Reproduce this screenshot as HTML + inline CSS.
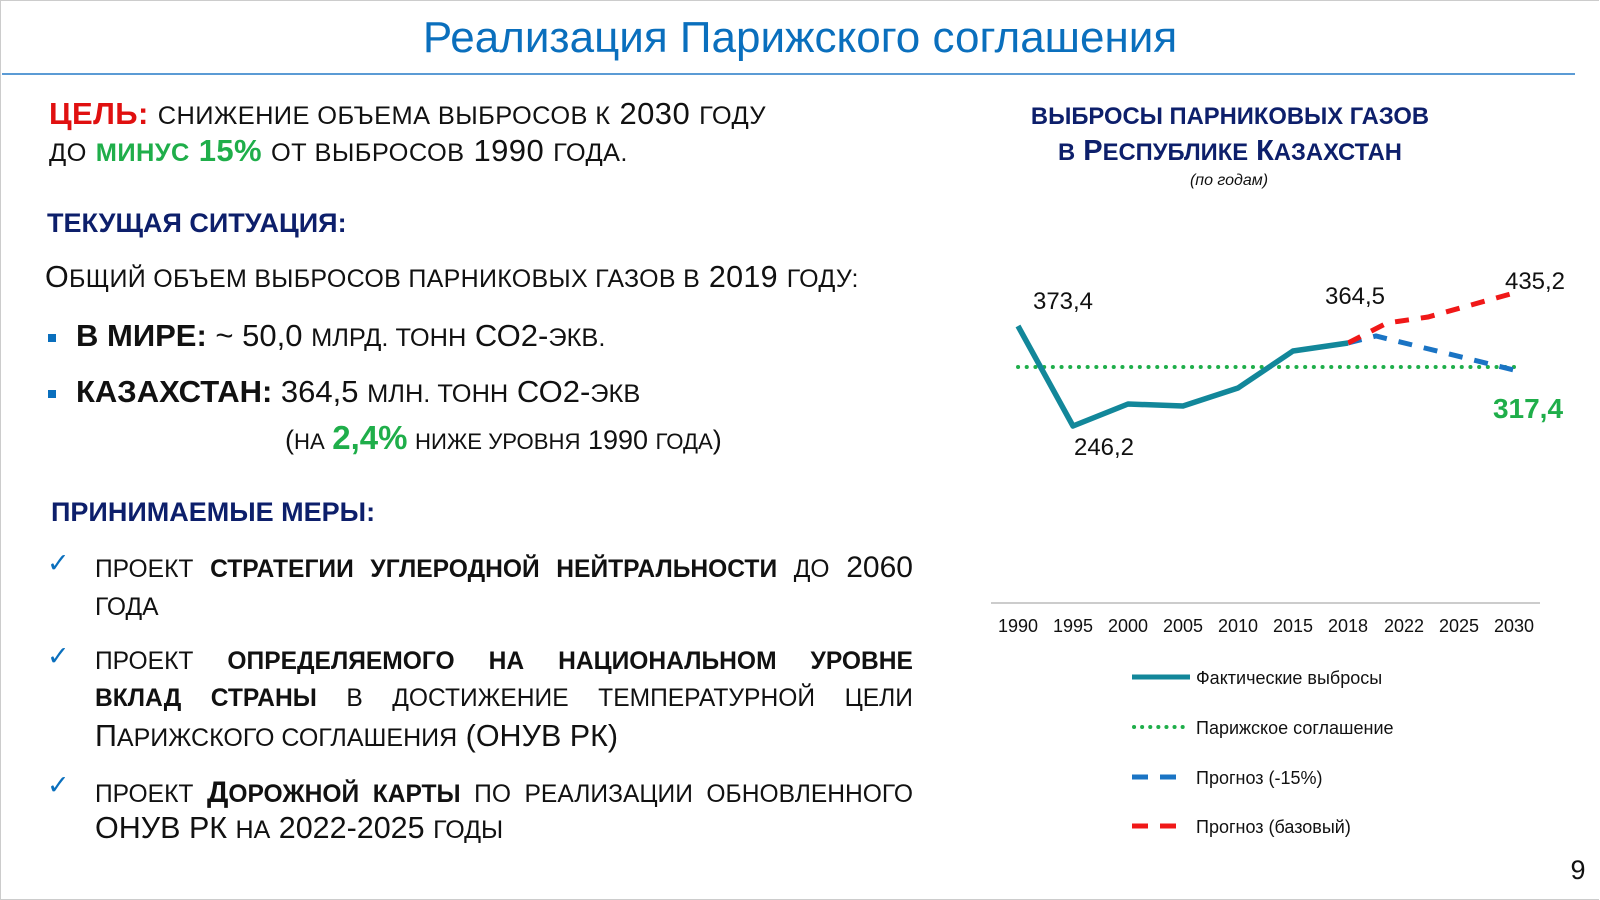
<!DOCTYPE html>
<html><head><meta charset="utf-8"><style>
body{margin:0;width:1600px;height:900px;background:#fff;position:relative;overflow:hidden;font-family:"Liberation Sans",Arial,sans-serif;color:#111}
.a{position:absolute;white-space:nowrap}
.u{text-transform:uppercase;font-size:.82em}
.navy{color:#0d1f6b;font-weight:bold}
.j{display:flex;justify-content:space-between;align-items:baseline;width:818px}
</style></head><body>
<div style="position:absolute;left:0;top:0;width:1598px;height:898px;border:1px solid #ccc;border-right:none"></div>
<div class="a" style="left:0;width:1600px;text-align:center;top:13px;font-size:44px;color:#0a6fbd">Реализация Парижского соглашения</div>
<div class="a" style="left:2px;top:73px;width:1573px;height:2px;background:#5b9bd5"></div>

<div class="a" style="left:49px;top:96px;font-size:31px;letter-spacing:0.4px"><b style="color:#e01010">ЦЕЛЬ:</b> <span class="u">снижение объема выбросов к</span> 2030 <span class="u">году</span></div>
<div class="a" style="left:49px;top:133px;font-size:31px;letter-spacing:0.4px"><span class="u">до</span> <b style="color:#1fae4a"><span class="u">минус</span> 15%</b> <span class="u">от выбросов</span> 1990 <span class="u">года.</span></div>

<div class="a navy" style="left:47px;top:208px;font-size:27px">ТЕКУЩАЯ СИТУАЦИЯ:</div>
<div class="a" style="left:45px;top:260px;font-size:30.5px;letter-spacing:0.3px">О<span class="u">бщий объем выбросов парниковых газов в</span> 2019 <span class="u">году:</span></div>
<div class="a" style="left:48px;top:334px;width:8px;height:8px;background:#0a6fbd"></div>
<div class="a" style="left:76px;top:318px;font-size:31px"><b>В МИРЕ:</b> ~ 50,0 <span class="u">млрд. тонн</span> СО2-<span class="u">экв.</span></div>
<div class="a" style="left:48px;top:390px;width:8px;height:8px;background:#0a6fbd"></div>
<div class="a" style="left:76px;top:374px;font-size:31px"><b>КАЗАХСТАН:</b> 364,5 <span class="u">млн. тонн</span> СО2-<span class="u">экв</span></div>
<div class="a" style="left:285px;top:419px;font-size:27px">(<span class="u">на</span> <b style="color:#1fae4a;font-size:33px">2,4%</b> <span class="u">ниже уровня</span> 1990 <span class="u">года</span>)</div>

<div class="a navy" style="left:51px;top:497px;font-size:27px">ПРИНИМАЕМЫЕ МЕРЫ:</div>

<div class="a" style="left:47px;top:548px;font-size:27px;color:#0a6fbd">✓</div>
<div class="a j" style="left:95px;top:551px;font-size:30px"><span class="u">проект</span><b class="u">стратегии</b><b class="u">углеродной</b><b class="u">нейтральности</b><span class="u">до</span><span>2060</span></div>
<div class="a" style="left:95px;top:589px;font-size:30px"><span class="u">года</span></div>

<div class="a" style="left:47px;top:641px;font-size:27px;color:#0a6fbd">✓</div>
<div class="a j" style="left:95px;top:648px;font-size:30px"><span class="u">проект</span><b class="u">определяемого</b><b class="u">на</b><b class="u">национальном</b><b class="u">уровне</b></div>
<div class="a j" style="left:95px;top:685px;font-size:30px"><b class="u">вклад</b><b class="u">страны</b><span class="u">в</span><span class="u">достижение</span><span class="u">температурной</span><span class="u">цели</span></div>
<div class="a" style="left:95px;top:719px;font-size:30.5px">П<span class="u">арижского соглашения</span> (ОНУВ РК)</div>

<div class="a" style="left:47px;top:770px;font-size:27px;color:#0a6fbd">✓</div>
<div class="a j" style="left:95px;top:776px;font-size:30px"><span class="u">проект</span><b>Д<span class="u">орожной</span></b><b class="u">карты</b><span class="u">по</span><span class="u">реализации</span><span class="u">обновленного</span></div>
<div class="a" style="left:95px;top:811px;font-size:30.5px">ОНУВ РК <span class="u">на</span> 2022-2025 <span class="u">годы</span></div>

<div class="a navy" style="left:1000px;width:460px;text-align:center;top:99px;font-size:29px"><span class="u">выбросы парниковых газов</span></div>
<div class="a navy" style="left:1000px;width:460px;text-align:center;top:135px;font-size:29px"><span class="u">в</span> Р<span class="u">еспублике</span> К<span class="u">азахстан</span></div>
<div class="a" style="left:1029px;width:400px;text-align:center;top:172px;font-size:16px;font-style:italic">(по годам)</div>

<svg class="a" style="left:0;top:0" width="1600" height="900">
<line x1="1018" y1="367" x2="1514" y2="367" stroke="#1fae4a" stroke-width="4" stroke-dasharray="0.1 8.6" stroke-linecap="round"/>
<polyline points="1348,343 1376,336 1514,370" fill="none" stroke="#1a74c4" stroke-width="5" stroke-dasharray="14 12"/>
<polyline points="1348,343 1387,323 1428,317 1514,293" fill="none" stroke="#f01818" stroke-width="5" stroke-dasharray="14 12"/>
<polyline points="1018,326 1073,426 1128,404 1183,406 1238,388 1293,351 1348,343" fill="none" stroke="#12879a" stroke-width="5.5" stroke-linejoin="round"/>
<line x1="991" y1="603" x2="1540" y2="603" stroke="#bbb" stroke-width="1.5"/>
<g font-family="Liberation Sans,sans-serif" font-size="24" fill="#111" text-anchor="middle">
<text x="1063" y="309">373,4</text><text x="1104" y="455">246,2</text><text x="1355" y="304">364,5</text><text x="1535" y="289">435,2</text>
<text x="1528" y="418" fill="#1fae4a" font-weight="bold" font-size="28">317,4</text>
</g>
<g font-family="Liberation Sans,sans-serif" font-size="18" fill="#111" text-anchor="middle">
<text x="1018" y="632">1990</text><text x="1073" y="632">1995</text><text x="1128" y="632">2000</text><text x="1183" y="632">2005</text><text x="1238" y="632">2010</text><text x="1293" y="632">2015</text><text x="1348" y="632">2018</text><text x="1404" y="632">2022</text><text x="1459" y="632">2025</text><text x="1514" y="632">2030</text>
</g>
<line x1="1132" y1="677" x2="1190" y2="677" stroke="#12879a" stroke-width="5"/>
<line x1="1134" y1="727" x2="1190" y2="727" stroke="#1fae4a" stroke-width="4" stroke-dasharray="0.1 8" stroke-linecap="round"/>
<line x1="1132" y1="777" x2="1184" y2="777" stroke="#1a74c4" stroke-width="5" stroke-dasharray="16 12"/>
<line x1="1132" y1="826" x2="1184" y2="826" stroke="#f01818" stroke-width="5" stroke-dasharray="16 12"/>
<g font-family="Liberation Sans,sans-serif" font-size="18" fill="#111">
<text x="1196" y="684">Фактические выбросы</text><text x="1196" y="734">Парижское соглашение</text><text x="1196" y="784">Прогноз (-15%)</text><text x="1196" y="833">Прогноз (базовый)</text>
</g>
<text x="1578" y="879" font-family="Liberation Sans,sans-serif" font-size="27" fill="#111" text-anchor="middle">9</text>
</svg>
</body></html>
